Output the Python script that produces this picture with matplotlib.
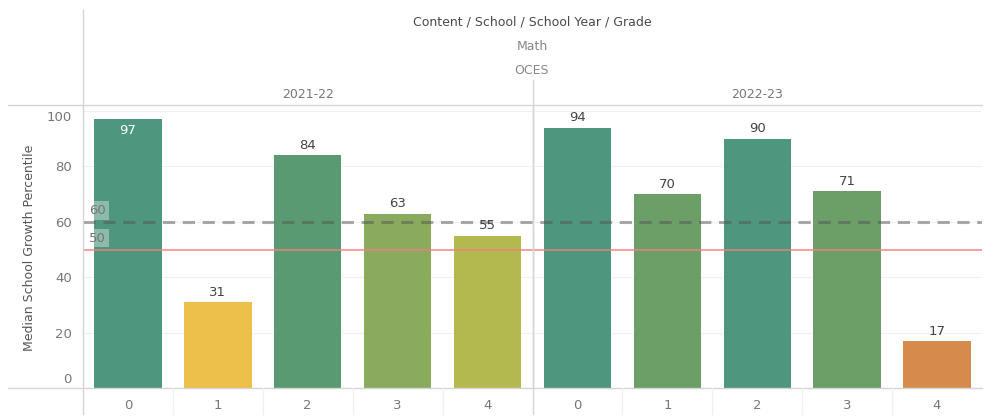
import matplotlib
matplotlib.use("Agg")
from matplotlib import pyplot as plt
from matplotlib.lines import Line2D
from matplotlib.transforms import ScaledTranslation

years = ["2021-22", "2022-23"]
grades = ["0", "1", "2", "3", "4"]
growth_2122 = [97, 31, 84, 63, 55]
growth_2223 = [94, 70, 90, 71, 17]
colors_2122 = ["#4f967f", "#edbf4b", "#5a9a72", "#8aaa5e", "#b4b94f"]
colors_2223 = ["#4f967f", "#6c9e68", "#4f967f", "#6c9e68", "#d68b4c"]
target = 60
median_line = 50

W, H = 987, 417
fig = plt.figure(figsize=(W / 100, H / 100), dpi=100)

def fx(px):
    return px / W

def fy(py):
    return 1 - py / H

left, right, top, bottom = 83, 982, 105, 388
ax = fig.add_axes([fx(left), fy(bottom), fx(right) - fx(left), fy(top) - fy(bottom)])

values = growth_2122 + growth_2223
colors = colors_2122 + colors_2223
xs = list(range(len(values)))
ax.bar(xs, values, width=0.75, color=colors, zorder=2)

for x, v in zip(xs, values):
    if v > 95:
        ax.text(x, v - 1.5, str(v), ha="center", va="top", color="white", fontsize=9.5, zorder=4)
    else:
        ax.text(x, v + 1.2, str(v), ha="center", va="bottom", color="#444444", fontsize=9.5, zorder=4)

ax.axhline(target, color="#555555", alpha=0.5, lw=2.2, ls=(0, (4, 2.5)), zorder=3)
ax.axhline(median_line, color="#f08080", alpha=0.8, lw=1.3, zorder=3)
box = dict(boxstyle="square,pad=0.2", fc="white", ec="none", alpha=0.35)
ax.text(-0.43, target + 1.8, str(target), ha="left", va="bottom", color="#777777", fontsize=9.5, bbox=box, zorder=4)
ax.text(-0.43, median_line + 1.8, str(median_line), ha="left", va="bottom", color="#777777", fontsize=9.5, bbox=box, zorder=4)

ax.set_xlim(-0.5, len(values) - 0.5)
ax.set_ylim(0, 102.2)
ax.set_yticks([0, 20, 40, 60, 80, 100])
ax.set_xticks(xs)
ax.set_xticklabels(grades + grades)
ax.tick_params(axis="both", length=0, colors="#777777", labelsize=9.5)
ax.tick_params(axis="x", pad=8)
ax.tick_params(axis="y", pad=8)
ax.grid(axis="y", color="#f0f0f0", lw=0.8, zorder=0)
for s in ax.spines.values():
    s.set_visible(False)
ax.axvline(4.5, color="#d0d0d0", lw=1, zorder=1)

fig.canvas.draw()
ylbls = ax.get_yticklabels()
ylbls[0].set_transform(ylbls[0].get_transform() + ScaledTranslation(0, 10 / 100, fig.dpi_scale_trans))
ylbls[-1].set_transform(ylbls[-1].get_transform() + ScaledTranslation(0, -5 / 100, fig.dpi_scale_trans))

# frame lines
fig.add_artist(Line2D([fx(8), fx(right)], [fy(top), fy(top)], color="#d5d5d5", lw=1))
fig.add_artist(Line2D([fx(8), fx(right)], [fy(bottom), fy(bottom)], color="#d5d5d5", lw=1))
fig.add_artist(Line2D([fx(left), fx(left)], [fy(10), fy(414)], color="#d5d5d5", lw=1))
fig.add_artist(Line2D([fx(533), fx(533)], [fy(80), fy(414)], color="#d5d5d5", lw=1))
for px in [173, 263, 353, 443, 622, 712, 802, 892]:
    fig.add_artist(Line2D([fx(px), fx(px)], [fy(bottom), fy(414)], color="#f0f0f0", lw=1))

# header
fig.text(fx(532), fy(22), "Content / School / School Year / Grade", ha="center", va="center", fontsize=9, color="#4a4a4a")
fig.text(fx(532), fy(46), "Math", ha="center", va="center", fontsize=9, color="#888888")
fig.text(fx(532), fy(71), "OCES", ha="center", va="center", fontsize=9, color="#888888")
fig.text(fx(308), fy(95), years[0], ha="center", va="center", fontsize=9, color="#777777")
fig.text(fx(757), fy(95), years[1], ha="center", va="center", fontsize=9, color="#777777")

fig.text(fx(30), fy(248), "Median School Growth Percentile", rotation=90, ha="center", va="center", fontsize=9, color="#555555")

fig.savefig("out.png", dpi=100)
